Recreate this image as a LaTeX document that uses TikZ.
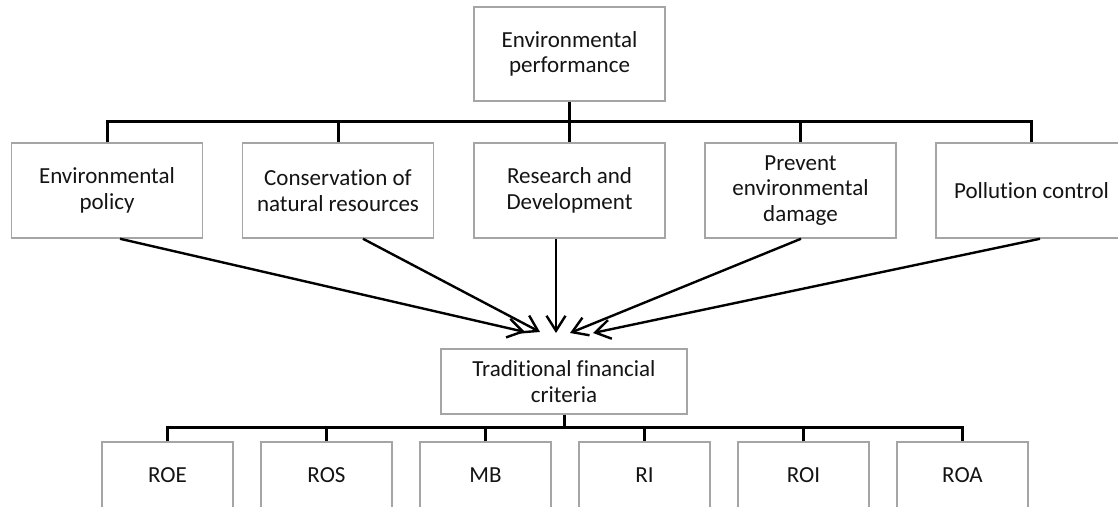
\documentclass[tikz,border=0pt]{standalone}
\usepackage{fontspec}
\setmainfont{Carlito}[Ligatures={NoCommon}]
\usetikzlibrary{arrows.meta}
\definecolor{boxgray}{RGB}{165,165,165}
\definecolor{txt}{RGB}{20,20,20}
\tikzset{
  box/.style={draw=boxgray, line width=1.5pt, fill=white, inner sep=0pt, align=center,
    text=txt, font=\fontsize{23}{25.7}\selectfont},
  topbox/.style={box, minimum width=191pt, minimum height=94pt},
  midbox/.style={box, minimum width=191pt, minimum height=95pt},
  tradbox/.style={box, minimum width=246pt, minimum height=65pt},
  lowbox/.style={box, minimum width=131pt, minimum height=66pt},
  tree/.style={line width=3pt, black},
  flow/.style={line width=2.4pt, black, -{Straight Barb[length=15pt,width=19pt,line width=2.4pt]}}
}
\begin{document}
\begin{tikzpicture}[x=1pt,y=-1pt]
\useasboundingbox (0,0) rectangle (1118,506);
\fill[white] (0,0) rectangle (1118,506);
\clip (0,0) rectangle (1118,506);

\node[topbox] (top) at (569.5,54) {Environmental\\performance};

\node[midbox] (m1) at (107,190.5) {Environmental\\policy};
\node[midbox] (m2) at (338,190.5) {Conservation of\\natural resources};
\node[midbox] (m3) at (569.5,190.5) {Research and\\Development};
\node[midbox] (m4) at (800.5,190.5) {Prevent\\environmental\\damage};
\node[midbox] (m5) at (1031.5,190.5) {Pollution control};

\node[tradbox] (trad) at (564,381.5) {Traditional financial\\criteria};

\node[lowbox] (l1) at (167.5,475) {ROE};
\node[lowbox] (l2) at (326.5,475) {ROS};
\node[lowbox] (l3) at (485.5,475) {MB};
\node[lowbox] (l4) at (644.5,475) {RI};
\node[lowbox] (l5) at (803.5,475) {ROI};
\node[lowbox] (l6) at (962.5,475) {ROA};

% upper tree
\draw[tree] (top.south) -- (m3.north);
\draw[tree] (m1.north) -- ++(0,-21) -| (m5.north);
\draw[tree] (m2.north) -- ++(0,-21);
\draw[tree] (m4.north) -- ++(0,-21);

% lower tree
\draw[tree] (trad.south) -- ++(0,14);
\draw[tree] (l1.north) -- ++(0,-14) -| (l6.north);
\draw[tree] (l2.north) -- ++(0,-14);
\draw[tree] (l3.north) -- ++(0,-14);
\draw[tree] (l4.north) -- ++(0,-14);
\draw[tree] (l5.north) -- ++(0,-14);

% arrow tips
\coordinate (t1) at (525,332);
\coordinate (t2) at (540,332);
\coordinate (t3) at (556,333);
\coordinate (t4) at (570,333);
\coordinate (t5) at (593,333);

\draw[flow] ([xshift=13pt]m1.south) -- (t1);
\draw[flow] ([xshift=25pt]m2.south) -- (t2);
\draw[flow] ([xshift=-13.5pt]m3.south) -- (t3);
\draw[flow] ([xshift=0.5pt]m4.south) -- (t4);
\draw[flow] ([xshift=8.5pt]m5.south) -- (t5);
\end{tikzpicture}
\end{document}
